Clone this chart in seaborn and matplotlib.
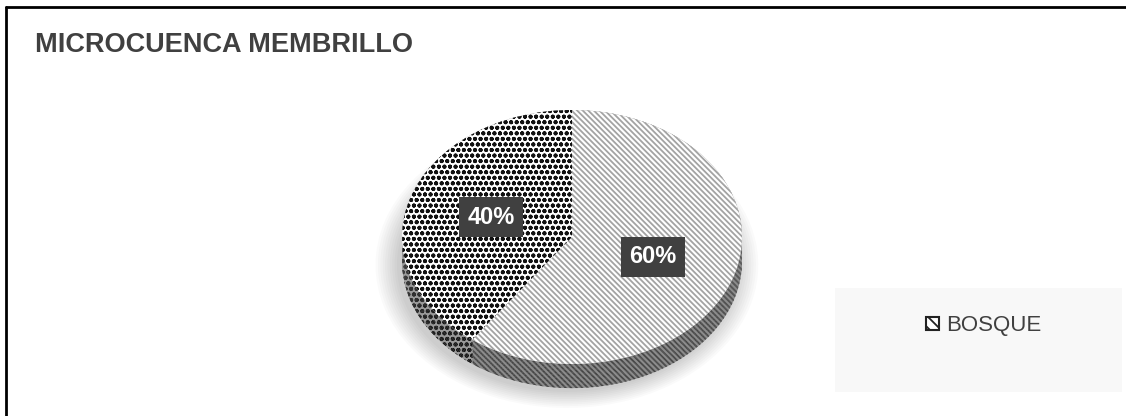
import numpy as np
import matplotlib
matplotlib.use("Agg")
import matplotlib.pyplot as plt
import seaborn as sns
from matplotlib.patches import Rectangle, Patch
from matplotlib.lines import Line2D

# ---- data ----
categories = ["BOSQUE", ""]
values = [60, 40]
title = "MICROCUENCA MEMBRILLO"

sns.set_theme(style="white")
plt.rcParams["font.family"] = ["Liberation Sans Narrow", "Liberation Sans", "DejaVu Sans"]
plt.rcParams["hatch.linewidth"] = 1.3

W, H = 1126, 416
fig = plt.figure(figsize=(W / 100, H / 100), dpi=100)
fig.patch.set_facecolor("white")

# pie axes: 1 unit = rx px horizontally, ry px vertically
rx, ry = 170, 127
cx, cy = 572, H - 237
xlim = (-1.25, 1.25)
ylim = (-1.45, 1.2)
left = cx + xlim[0] * rx
bottom = cy + ylim[0] * ry
ax = fig.add_axes([left / W, bottom / H, (xlim[1] - xlim[0]) * rx / W,
                   (ylim[1] - ylim[0]) * ry / H])
ax.set_facecolor("none")

common = dict(startangle=90, counterclock=False)
STRIPE = "\\" * 6
DOTS = "o" * 3

# soft shadow
for k in range(10):
    ax.pie(values, radius=1.0 + 0.014 * k, center=(-0.03, -0.22),
           colors=["black", "black"],
           wedgeprops=dict(alpha=0.02, linewidth=0), **common)

# side wall
depth = 0.19
for off in np.linspace(depth, 0.0, 18):
    wedges, _ = ax.pie(values, center=(0, -off), colors=["#8c8c8c", "#9a9a9a"],
                       hatch=[STRIPE, DOTS],
                       wedgeprops=dict(linewidth=0), **common)
    wedges[0].set_edgecolor("#454545")
    wedges[1].set_edgecolor("#111111")

# top face
wedges, texts, autotexts = ax.pie(
    values, colors=["white", "white"], hatch=[STRIPE, DOTS],
    autopct=lambda p: f"{p:.0f}%", pctdistance=0.5,
    wedgeprops=dict(linewidth=0), **common)
wedges[0].set_edgecolor("#a3a3a3")
wedges[1].set_edgecolor("#111111")
for t in autotexts:
    t.set_color("white")
    t.set_fontsize(17)
    t.set_fontweight("bold")
    t.set_bbox(dict(boxstyle="square,pad=0.36", fc="#404040", ec="none"))

ax.set_aspect("auto")
ax.set_xlim(*xlim)
ax.set_ylim(*ylim)
ax.axis("off")

# legend background box
fig.add_artist(Rectangle((835 / W, 24 / H), 287 / W, 104 / H,
                         transform=fig.transFigure, fc="#f8f8f8", ec="none", zorder=0))
handle = Patch(facecolor="white", edgecolor="#222222", hatch="\\\\\\", linewidth=1.5)
fig.legend(handles=[handle], labels=[categories[0]], loc="center",
           bbox_to_anchor=(984 / W, 1 - 326 / H), frameon=False, fontsize=16,
           handlelength=0.55, handleheight=0.55, handletextpad=0.35,
           labelcolor="#404040")

# title
fig.text(35 / W, 1 - 45 / H, title, fontsize=19.5, fontweight="bold",
         color="#404040", ha="left", va="center")

# frame lines (left and top)
fig.add_artist(Line2D([6 / W, 6 / W], [0, 1 - 7 / H], transform=fig.transFigure,
                      color="black", lw=2))
fig.add_artist(Line2D([6 / W, 1], [1 - 7 / H, 1 - 7 / H], transform=fig.transFigure,
                      color="black", lw=2))

fig.savefig("out.png", dpi=100, facecolor="white")
